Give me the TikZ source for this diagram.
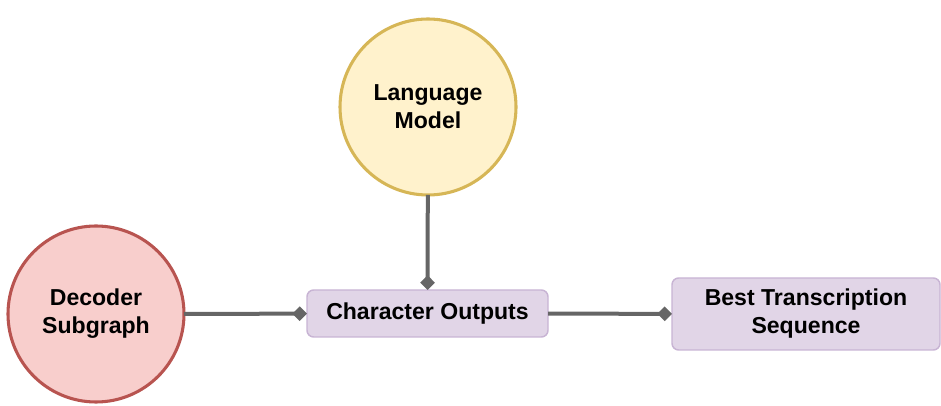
\documentclass[tikz,border=0pt]{standalone}
\usepackage{fontspec}
\setmainfont{Liberation Sans}
\usetikzlibrary{arrows.meta}

\definecolor{lmfill}{HTML}{FFF2CC}
\definecolor{lmdraw}{HTML}{D6B656}
\definecolor{decfill}{HTML}{F8CECC}
\definecolor{decdraw}{HTML}{B85450}
\definecolor{boxfill}{HTML}{E1D5E7}
\definecolor{boxdraw}{HTML}{C8B4D4}
\definecolor{linkgray}{HTML}{666666}

\begin{document}
\begin{tikzpicture}[
    x=0.75pt, y=0.75pt,
    every node/.style={font=\fontsize{17.3}{21}\selectfont\bfseries},
    roundnode/.style={
        circle,
        draw,
        line width=2.3pt,
        minimum size=132pt,
        align=center,
        inner sep=0pt,
        outer sep=0pt
    },
    stage/.style={
        draw=boxdraw,
        fill=boxfill,
        line width=1.1pt,
        rounded corners=5pt,
        align=center,
        outer sep=0pt
    },
    link/.style={
        draw=linkgray,
        line width=3pt,
        -{Diamond[length=11pt, width=11pt]}
    }
]

    % canvas
    \useasboundingbox (0,0) rectangle (941,406);

    % language model
    \node[roundnode, fill=lmfill, draw=lmdraw] (langmodel) at (428,299)
        {Language\\ Model};

    % decoder subgraph
    \node[roundnode, fill=decfill, draw=decdraw] (decoder) at (96,92)
        {Decoder\\ Subgraph};

    % character outputs
    \node[
        stage,
        minimum width=180.75pt,
        minimum height=35.25pt
    ] (charout) at (427.5,92.5) {Character Outputs};

    % best transcription
    \node[
        stage,
        minimum width=201pt,
        minimum height=54pt
    ] (besttrans) at (806,92) {Best Transcription\\ Sequence};

    % links
    \draw[link] (decoder) -- (charout);
    \draw[link] (langmodel) -- (charout);
    \draw[link] (charout) -- (besttrans);

\end{tikzpicture}
\end{document}
